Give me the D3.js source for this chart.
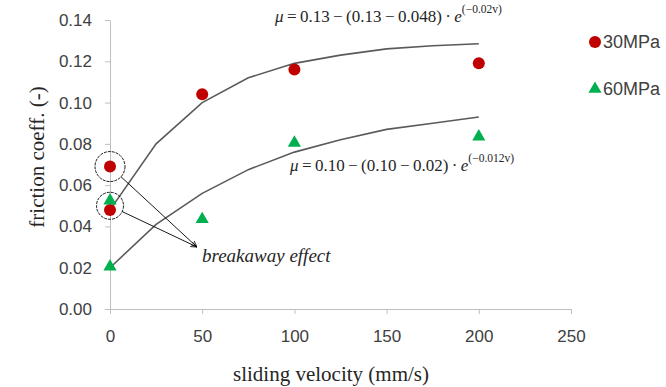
<!DOCTYPE html>
<html>
<head>
<meta charset="utf-8">
<script src="https://cdn.jsdelivr.net/npm/d3@7"></script>
<style>
  body { margin: 0; background: #fff; }
  .tick text { font-family: "Liberation Sans", Arial, sans-serif; font-size: 17px; fill: #404040; }
  .axis path, .axis line { stroke: #bfbfbf; }
  .serif { font-family: "Liberation Serif", "Times New Roman", serif; fill: #262626; }
</style>
</head>
<body>
<div id="chart"></div>
<script>
// measured points
var velocity30 = [0, 0, 50, 100, 200];
var friction30 = [0.069, 0.048, 0.104, 0.116, 0.119];
var velocity60 = [0, 0, 50, 100, 200];
var friction60 = [0.052, 0.020, 0.043, 0.080, 0.083];

// fitted curves
var fitVelocity = [0, 25, 50, 75, 100, 125, 150, 175, 200];
var fit30 = [0.048, 0.080, 0.100, 0.112, 0.119, 0.123, 0.126, 0.1275, 0.1285];
var fit60 = [0.020, 0.041, 0.056, 0.0675, 0.076, 0.082, 0.087, 0.090, 0.093];

var xTicks = [0, 50, 100, 150, 200, 250];
var yTicks = [0, 0.02, 0.04, 0.06, 0.08, 0.10, 0.12, 0.14];
var seriesNames = ["30MPa", "60MPa"];
var breakaway = [[0, 0.069], [0, 0.050]];

var width = 666, height = 387;
var red = "#c00000", green = "#00b050";

var x = d3.scaleLinear().domain([0, 250]).range([110, 571]);
var y = d3.scaleLinear().domain([0, 0.14]).range([309, 20]);

var svg = d3.select("#chart").append("svg")
    .attr("width", width)
    .attr("height", height);

svg.append("g")
  .attr("class", "axis")
  .attr("transform", "translate(0," + y(0) + ")")
  .call(d3.axisBottom(x).tickValues(xTicks).tickSize(5).tickSizeOuter(0).tickPadding(16));

svg.append("g")
  .attr("class", "axis")
  .attr("transform", "translate(" + x(0) + ",0)")
  .call(d3.axisLeft(y).tickValues(yTicks).tickFormat(d3.format(".2f")).tickSize(5).tickSizeOuter(0).tickPadding(13));

// axis titles
svg.append("text")
  .attr("class", "serif")
  .attr("transform", "translate(44,157) rotate(-90)")
  .attr("text-anchor", "middle")
  .style("font-size", "21px")
  .text("friction coeff. (-)");

svg.append("text")
  .attr("class", "serif")
  .attr("x", 331).attr("y", 381)
  .attr("text-anchor", "middle")
  .style("font-size", "21px")
  .text("sliding velocity (mm/s)");

// fit curves
var line = d3.line()
  .x(function(d, i) { return x(fitVelocity[i]); })
  .y(function(d) { return y(d); });

[fit30, fit60].forEach(function(f) {
  svg.append("path")
    .datum(f)
    .attr("d", line)
    .attr("fill", "none")
    .attr("stroke", "#5a5a5a")
    .attr("stroke-width", 1.6);
});

// points
svg.selectAll(".dot30")
  .data(friction30)
  .enter().append("circle")
  .attr("cx", function(d, i) { return x(velocity30[i]); })
  .attr("cy", function(d) { return y(d); })
  .attr("r", 6)
  .attr("fill", red);

var tri = d3.symbol().type(d3.symbolTriangle).size(75);
svg.selectAll(".dot60")
  .data(friction60)
  .enter().append("path")
  .attr("d", tri)
  .attr("transform", function(d, i) { return "translate(" + x(velocity60[i]) + "," + (y(d) - 1) + ")"; })
  .attr("fill", green);

// breakaway annotation
var target = [197, 247];
svg.append("defs").append("marker")
  .attr("id", "arrow")
  .attr("viewBox", "0 0 10 10")
  .attr("refX", 10).attr("refY", 5)
  .attr("markerWidth", 7).attr("markerHeight", 7)
  .attr("orient", "auto")
  .append("path")
  .attr("d", "M0,1L10,5L0,9")
  .attr("fill", "none")
  .attr("stroke", "#000")
  .attr("stroke-width", 1.2);

var radii = [15, 13.5];
breakaway.forEach(function(b, i) {
  var cx = x(b[0]), cy = y(b[1]);
  svg.append("circle")
    .attr("cx", cx).attr("cy", cy).attr("r", radii[i])
    .attr("fill", "none")
    .attr("stroke", "#000")
    .attr("stroke-width", 0.9)
    .attr("stroke-dasharray", "3,1");
  var a = Math.atan2(target[1] - cy, target[0] - cx);
  svg.append("line")
    .attr("x1", cx + radii[i] * Math.cos(a)).attr("y1", cy + radii[i] * Math.sin(a))
    .attr("x2", target[0]).attr("y2", target[1])
    .attr("stroke", "#000")
    .attr("stroke-width", 0.9)
    .attr("marker-end", "url(#arrow)");
});

svg.append("text")
  .attr("class", "serif")
  .attr("x", 202).attr("y", 262)
  .style("font-size", "19px")
  .style("font-style", "italic")
  .text("breakaway effect");

// equations
function equation(xp, yp, body, expo) {
  var t = svg.append("text").attr("class", "serif").attr("x", xp).attr("y", yp).style("font-size", "17px");
  t.append("tspan").style("font-style", "italic").text("\u03bc");
  t.append("tspan").text(body);
  t.append("tspan").style("font-style", "italic").text("e");
  t.append("tspan").attr("dy", -9).style("font-size", "11.5px").text(expo);
}
var s = "\u2009";
equation(275, 22, s + "=" + s + "0.13" + s + "\u2212" + s + "(0.13" + s + "\u2212" + s + "0.048)" + s + "\u00b7" + s, "(\u22120.02v)");
equation(290, 171, s + "=" + s + "0.10" + s + "\u2212" + s + "(0.10" + s + "\u2212" + s + "0.02)" + s + "\u00b7" + s, "(\u22120.012v)");

// legend
var legend = svg.append("g");
legend.append("circle").attr("cx", 595).attr("cy", 42).attr("r", 6).attr("fill", red);
legend.append("path").attr("d", tri).attr("transform", "translate(595,89)").attr("fill", green);
legend.selectAll("text")
  .data(seriesNames)
  .enter().append("text")
  .attr("x", 603)
  .attr("y", function(d, i) { return 48 + i * 47; })
  .style("font-family", "'Liberation Sans', Arial, sans-serif")
  .style("font-size", "18px")
  .style("fill", "#404040")
  .text(function(d) { return d; });
</script>
</body>
</html>
